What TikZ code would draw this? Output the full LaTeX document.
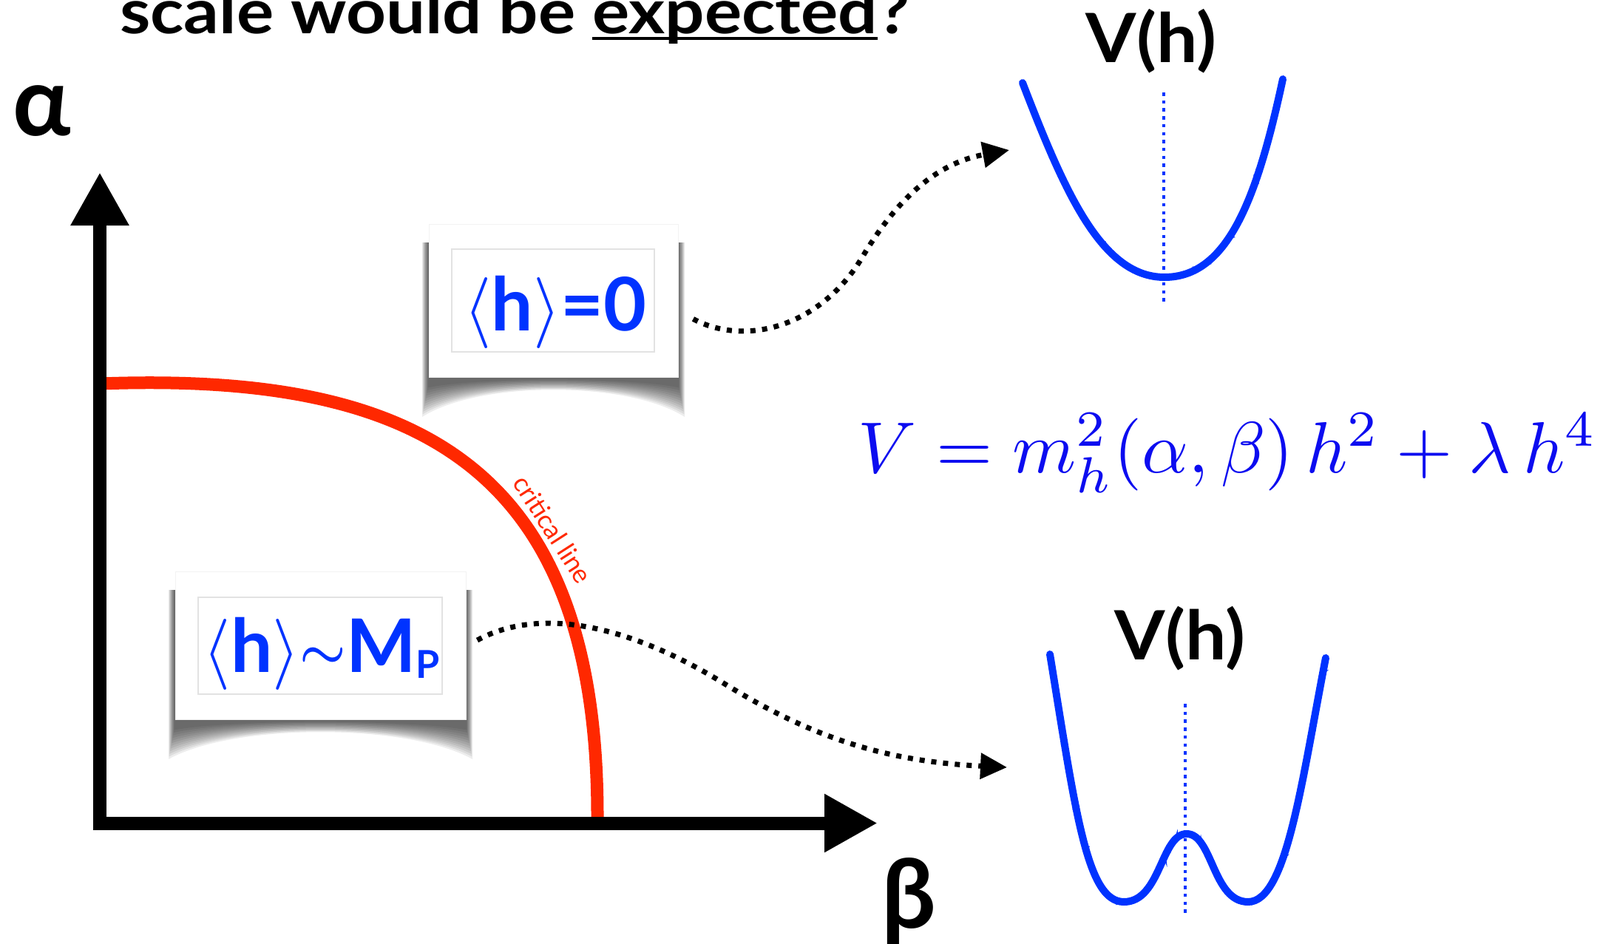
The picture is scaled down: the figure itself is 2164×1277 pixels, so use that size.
\documentclass[tikz,border=0pt]{standalone}
\usepackage[no-math]{fontspec}
\setmainfont{Lato}
\usetikzlibrary{arrows.meta,decorations.pathmorphing}
\definecolor{hblue}{RGB}{0,51,255}
\definecolor{eqblue}{RGB}{12,12,240}
\definecolor{critred}{RGB}{255,40,0}
\definecolor{innergray}{RGB}{226,226,226}
\newcommand\ulfixed[1]{\setbox0=\hbox{#1}\rlap{\rule[-9pt]{\wd0}{4.5pt}}\box0}
\newcommand\mathbig[2]{\scalebox{#1}{\fontsize{10}{12}\selectfont$#2$}}
\newcommand\curlshadow[4]{%
  \foreach \i in {0,...,11}{%
    \pgfmathsetmacro\dx{9-0.7*\i}%
    \pgfmathsetmacro\dy{54-3.6*\i}%
    \pgfmathsetmacro\dm{5-0.45*\i}%
    \pgfmathsetmacro\ca{#1+0.2*(#2-#1)}%
    \pgfmathsetmacro\cb{#1+0.8*(#2-#1)}%
    \fill[black,opacity=0.07] (#1-\dx,#3+25) -- (#1-\dx,#4+\dy)
      .. controls (\ca,#4+\dm) and (\cb,#4+\dm) .. (#2+\dx,#4+\dy)
      -- (#2+\dx,#3+25) -- cycle;
  }}
\def\potA{(1383,112) .. controls (1440,260) and (1490,375) .. (1575,375) .. controls (1660,375) and (1700,270) .. (1735,107)}
\def\potB{(1420,885) .. controls (1455,1100) and (1470,1220) .. (1520,1220) .. controls (1570,1220) and (1570,1128) .. (1605,1128) .. controls (1640,1128) and (1640,1220) .. (1688,1220) .. controls (1740,1220) and (1760,1060) .. (1793,890)}
\begin{document}
\begin{tikzpicture}[x=1pt,y=-1pt,
  axisline/.style={line width=18pt,-{Triangle[length=72pt,width=74pt]}},
  crit/.style={line width=17pt,critred},
  dotarrow/.style={line width=7pt,dash pattern=on 7pt off 9pt,-{Triangle[length=36pt,width=34pt]}},
  card/.style={fill=white,draw=black!5,line width=1pt,inner sep=0pt},
  innerbox/.style={draw=innergray,line width=1.5pt,inner sep=0pt},
  boxtext/.style={text=hblue,font=\fontsize{100}{100}\selectfont\bfseries,inner sep=0pt,anchor=base},
  pot/.style={hblue,line width=10pt,line cap=round,line join=round},
  potrough/.style={hblue,line width=3.5pt,line cap=round,decorate,decoration={random steps,segment length=3pt,amplitude=2.2pt}},
  potaxis/.style={hblue,line width=4.5pt,dash pattern=on 4.5pt off 6.2pt},
  lab/.style={font=\fontsize{92}{92}\selectfont\bfseries,inner sep=0pt,anchor=base},
  greek/.style={font=\fontsize{130}{130}\selectfont\bfseries,inner sep=0pt,anchor=base west}]
\useasboundingbox (0,0) rectangle (2164,1277);
\clip (0,0) rectangle (2164,1277);

% title
\node[anchor=base west,inner sep=0pt,font=\fontsize{84}{84}\selectfont\bfseries] (title) at (162,45)
  {\scalebox{1.12}[1]{scale would be \ulfixed{expected}?}};

% axes labels
\node[greek] (alpha) at (17,183) {α};
\node[greek] (beta) at (1192,1255) {β};

% critical line
\draw[crit] (136,519) .. controls (570,503) and (810,635) .. (808,1110);
\node[rotate=-57.3,text=critred,font=\fontsize{35}{35}\selectfont,inner sep=0pt] (critlab) at (748,716) {critical line};

% axes
\coordinate (ytip) at (135,233);
\coordinate (xtip) at (1187,1113.5);
\draw[axisline] (135,1122) -- (ytip);
\draw[axisline] (126,1113.5) -- (xtip);

% cards
\curlshadow{580}{917}{303}{510}
\node[card,minimum width=337pt,minimum height=207pt] (card1) at (748.5,406.5) {};
\node[innerbox,minimum width=274pt,minimum height=139pt] (in1) at (748,406.5) {};
\node[boxtext] (t1) at (751,447) {\mathbig{9.6}{\langle}h\mathbig{9.6}{\rangle}=0};

\curlshadow{237}{630}{773}{973}
\node[card,minimum width=393pt,minimum height=200pt] (card2) at (433.5,873) {};
\node[innerbox,minimum width=330pt,minimum height=131pt] (in2) at (433,873.5) {};
\node[boxtext] (t2) at (435,909) {\mathbig{9.6}{\langle}h\mathbig{9.6}{\rangle}\raisebox{6pt}{\scalebox{7}{\fontsize{10}{12}\selectfont\boldmath$\sim$}}M\raisebox{-8pt}{\fontsize{52}{52}\selectfont P}};

% potentials
\node[lab] (vh1) at (1557,84) {\scalebox{1.07}[1]{V(h)}};
\node[lab] (vh2) at (1596,892) {\scalebox{1.07}[1]{V(h)}};
\draw[potaxis] (1574,125) -- (1574,413);
\draw[pot] \potA;
\draw[potrough] \potA;
\draw[potrough,decoration={random steps,segment length=4pt,amplitude=2.8pt}] \potA;
\draw[potaxis] (1603,952) -- (1603,1240);
\draw[pot] \potB;
\draw[potrough] \potB;
\draw[potrough,decoration={random steps,segment length=4pt,amplitude=2.8pt}] \potB;
\coordinate (p1) at (1365,203);
\coordinate (p2) at (1362,1038);

% equation
\node[anchor=base west,inner sep=0pt,text=eqblue] (eq) at (1160,639)
  {\mathbig{9.8}{V=m_h^2(\alpha,\beta)\,h^2+\lambda\,h^4}};

% dotted connectors
\draw[dotarrow] ([xshift=20pt,yshift=-25pt]card1.east) .. controls (1010,470) and (1110,440) .. (1165,350)
  .. controls (1215,265) and (1270,220) .. (p1);
\draw[dotarrow] ([xshift=15pt,yshift=7pt]card2.east) .. controls (730,820) and (850,845) .. (980,925)
  .. controls (1100,999) and (1200,1030) .. (p2);
\end{tikzpicture}
\end{document}
